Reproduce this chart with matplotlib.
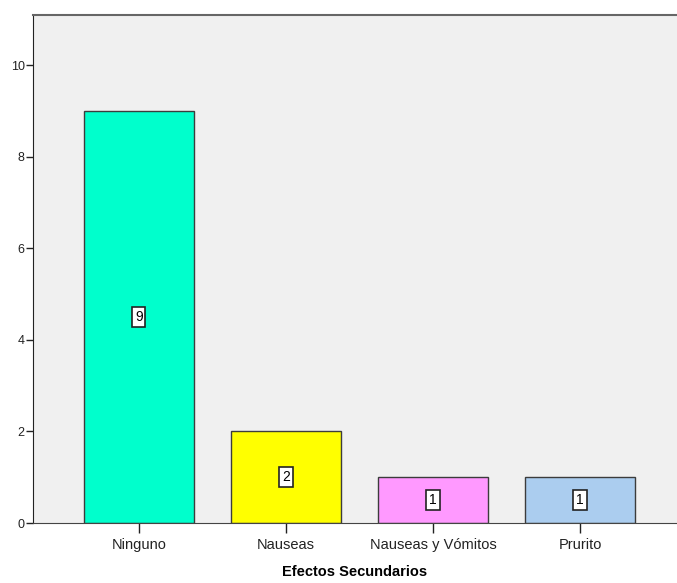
import matplotlib.pyplot as plt

# data
categories = ['Ninguno', 'Nauseas', 'Nauseas y Vómitos', 'Prurito']
counts = [9, 2, 1, 1]
colors = ['#00FFCC', '#FFFF00', '#FF99FF', '#ABCDEF']

plt.rcParams['font.family'] = ['Liberation Sans', 'DejaVu Sans']

fig = plt.figure(figsize=(6.77, 5.83), dpi=100)
ax = fig.add_axes([33 / 677, 1 - 523 / 583, 1 - 33 / 677, (523 - 15) / 583])
ax.set_facecolor('#F0F0F0')

x = list(range(len(categories)))
ax.bar(x, counts, width=0.75, color=colors, edgecolor='#3C3C3C', linewidth=1.0, zorder=2)

# value labels in the middle of each bar
for i, v in enumerate(counts):
    ax.text(i, v / 2, str(v), ha='center', va='center', fontsize=10, zorder=3,
            bbox=dict(boxstyle='square,pad=0.2', facecolor='white', edgecolor='#222222', linewidth=1.2))

ax.set_xlim(-0.72, 3.66)
ax.set_ylim(0, 11.1)
ax.set_yticks([0, 2, 4, 6, 8, 10])
ax.set_xticks(x)
ax.set_xticklabels(categories, fontsize=10.5)
ax.tick_params(axis='y', labelsize=9, length=5, width=1, pad=1, colors='#222222')
ax.tick_params(axis='x', length=7, width=1, pad=4, colors='#222222')

ax.spines['right'].set_visible(False)
ax.spines['top'].set_color('#666666')
ax.spines['top'].set_linewidth(1.5)
ax.spines['left'].set_color('#222222')
ax.spines['bottom'].set_color('#444444')

ax.set_xlabel('Efectos Secundarios', fontsize=10.5, fontweight='bold', labelpad=9)

fig.savefig('out.png', dpi=100)
